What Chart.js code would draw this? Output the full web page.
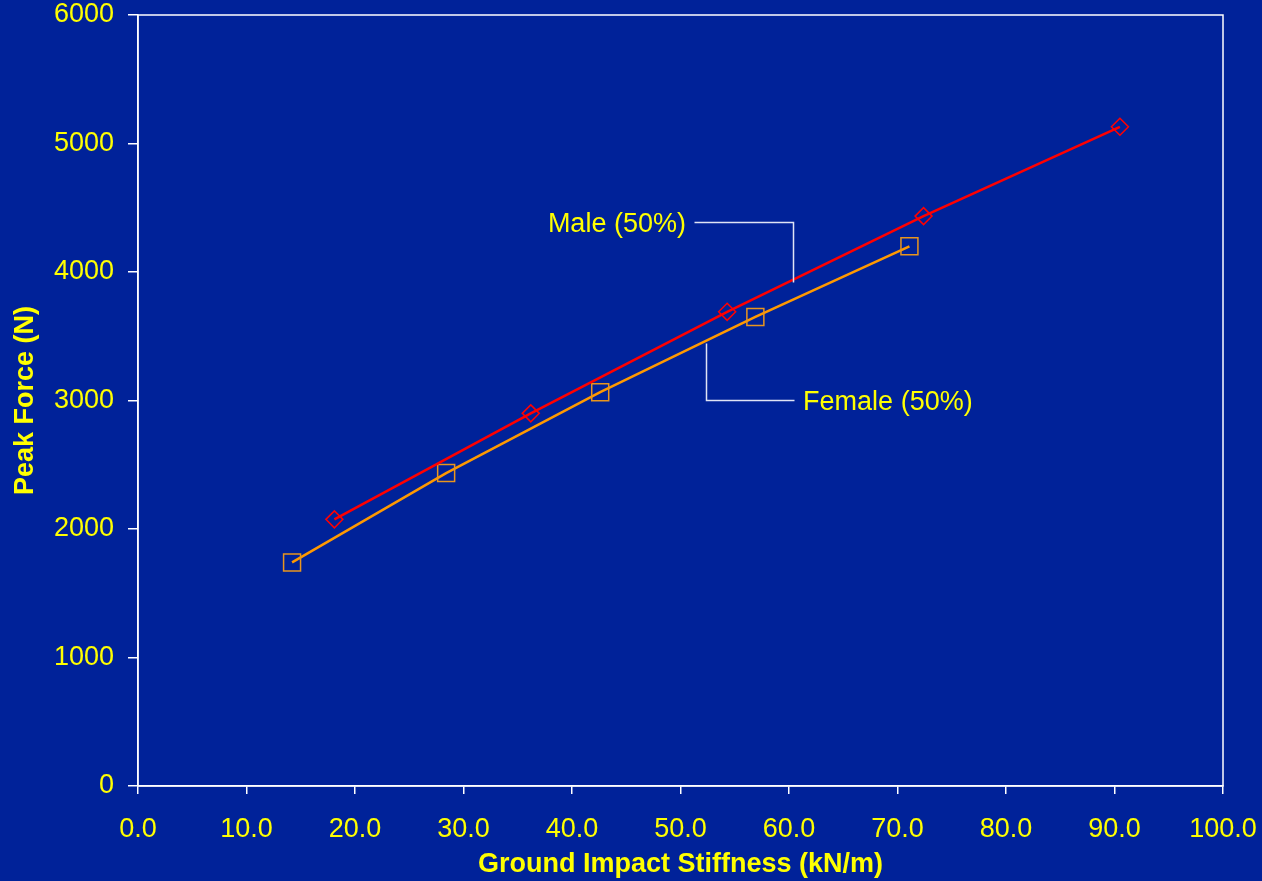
<!DOCTYPE html>
<html>
<head>
<meta charset="utf-8">
<script src="https://cdn.jsdelivr.net/npm/chart.js@4.4.1/dist/chart.umd.min.js"></script>
<style>
  html, body { margin: 0; padding: 0; background: #002299; }
  #wrap { width: 1262px; height: 881px; position: relative; }
</style>
</head>
<body>
<div id="wrap"><canvas id="chart"></canvas></div>
<script>
// Ground impact stiffness (kN/m) and peak force (N) for each dummy
const maleStiffness   = [18.1, 36.2, 54.3, 72.4, 90.5];
const maleForce       = [2075, 2900, 3690, 4435, 5130];
const femaleStiffness = [14.2, 28.4, 42.6, 56.9, 71.1];
const femaleForce     = [1740, 2435, 3065, 3650, 4200];

const seriesNames = ['Male (50%)', 'Female (50%)'];
const xTickValues = [0, 10, 20, 30, 40, 50, 60, 70, 80, 90, 100];
const yTickValues = [0, 1000, 2000, 3000, 4000, 5000, 6000];
const xAxisTitle = 'Ground Impact Stiffness (kN/m)';
const yAxisTitle = 'Peak Force (N)';

const YELLOW = '#ffff00';
const WHITE = '#ffffff';
const FONT = '"Liberation Sans", Arial, sans-serif';
const FONT_SIZE = 27;

const toPoints = (xs, ys) => xs.map((x, i) => ({ x: x, y: ys[i] }));

// Leader lines for the series labels, in axis units
const callouts = [
  { text: seriesNames[0], align: 'right',
    path: [[60.4, 3922], [60.4, 4389], [51.2, 4389]], textAt: [50.5, 4389] },
  { text: seriesNames[1], align: 'left',
    path: [[52.35, 3447], [52.35, 3004], [60.5, 3004]], textAt: [61.3, 3004] }
];

const frameAndCallouts = {
  id: 'frameAndCallouts',
  beforeDraw(chart) {
    const ctx = chart.ctx;
    ctx.save();
    ctx.fillStyle = '#002299';
    ctx.fillRect(0, 0, chart.width, chart.height);
    ctx.restore();
  },
  afterDraw(chart) {
    const { ctx, chartArea: a, scales: { x, y } } = chart;
    ctx.save();
    // plot frame
    ctx.strokeStyle = WHITE;
    ctx.lineWidth = 1.5;
    ctx.strokeRect(a.left, a.top, a.right - a.left, a.bottom - a.top);
    // callouts: leader line, then label centred on its horizontal leg
    ctx.strokeStyle = '#dfe4f5';
    ctx.lineWidth = 1.5;
    ctx.font = FONT_SIZE + 'px ' + FONT;
    ctx.fillStyle = YELLOW;
    ctx.textBaseline = 'alphabetic';
    const capHalf = FONT_SIZE * 0.716 / 2;
    callouts.forEach(c => {
      ctx.beginPath();
      c.path.forEach((p, i) => {
        const px = Math.round(x.getPixelForValue(p[0])) + 0.5;
        const py = Math.round(y.getPixelForValue(p[1])) + 0.5;
        if (i === 0) ctx.moveTo(px, py); else ctx.lineTo(px, py);
      });
      ctx.stroke();
      ctx.textAlign = c.align;
      ctx.fillText(c.text, x.getPixelForValue(c.textAt[0]), y.getPixelForValue(c.textAt[1]) + capHalf);
    });
    ctx.restore();
  }
};

new Chart(document.getElementById('chart'), {
  type: 'scatter',
  data: {
    datasets: [
      {
        label: seriesNames[0],
        data: toPoints(maleStiffness, maleForce),
        showLine: true,
        borderColor: '#ff0000',
        borderWidth: 2.5,
        pointStyle: 'rectRot',
        pointRadius: 8.5,
        pointBorderColor: '#ff0000',
        pointBackgroundColor: 'rgba(0,0,0,0)',
        pointBorderWidth: 1.5
      },
      {
        label: seriesNames[1],
        data: toPoints(femaleStiffness, femaleForce),
        showLine: true,
        borderColor: '#ff9900',
        borderWidth: 2.5,
        pointStyle: 'rect',
        pointRadius: 12,
        pointBorderColor: '#e8951e',
        pointBackgroundColor: 'rgba(0,0,0,0)',
        pointBorderWidth: 1.5
      }
    ]
  },
  options: {
    responsive: true,
    maintainAspectRatio: false,
    animation: false,
    layout: { padding: { top: 15, right: 39, bottom: 0, left: 0 } },
    plugins: {
      legend: { display: false },
      tooltip: { enabled: false }
    },
    scales: {
      x: {
        type: 'linear',
        min: 0, max: 100,
        afterBuildTicks: s => { s.ticks = xTickValues.map(v => ({ value: v })); },
        afterFit: s => { s.height = 95; s.paddingLeft = 0; s.paddingRight = 0; },
        grid: { drawOnChartArea: false, drawTicks: true, tickLength: 8, color: WHITE, lineWidth: 1.5 },
        border: { display: true, color: WHITE, width: 1.5 },
        ticks: {
          color: YELLOW, padding: 19, maxRotation: 0,
          font: { family: FONT, size: FONT_SIZE },
          callback: v => Number(v).toFixed(1)
        },
        title: {
          display: true, text: xAxisTitle, color: YELLOW,
          font: { family: FONT, size: FONT_SIZE, weight: 'bold' },
          padding: { top: 0, bottom: 0 }
        }
      },
      y: {
        type: 'linear',
        min: 0, max: 6000,
        afterBuildTicks: s => { s.ticks = yTickValues.map(v => ({ value: v })); },
        afterFit: s => { s.width = 138; s.paddingTop = 0; s.paddingBottom = 0; },
        grid: { drawOnChartArea: false, drawTicks: true, tickLength: 10, color: WHITE, lineWidth: 1.5 },
        border: { display: true, color: WHITE, width: 1.5 },
        ticks: {
          color: YELLOW, padding: 14,
          font: { family: FONT, size: FONT_SIZE },
          callback: v => String(v)
        },
        title: {
          display: true, text: yAxisTitle, color: YELLOW,
          font: { family: FONT, size: FONT_SIZE, weight: 'bold' },
          padding: { top: 9, bottom: 0 }
        }
      }
    }
  },
  plugins: [frameAndCallouts]
});
</script>
</body>
</html>
